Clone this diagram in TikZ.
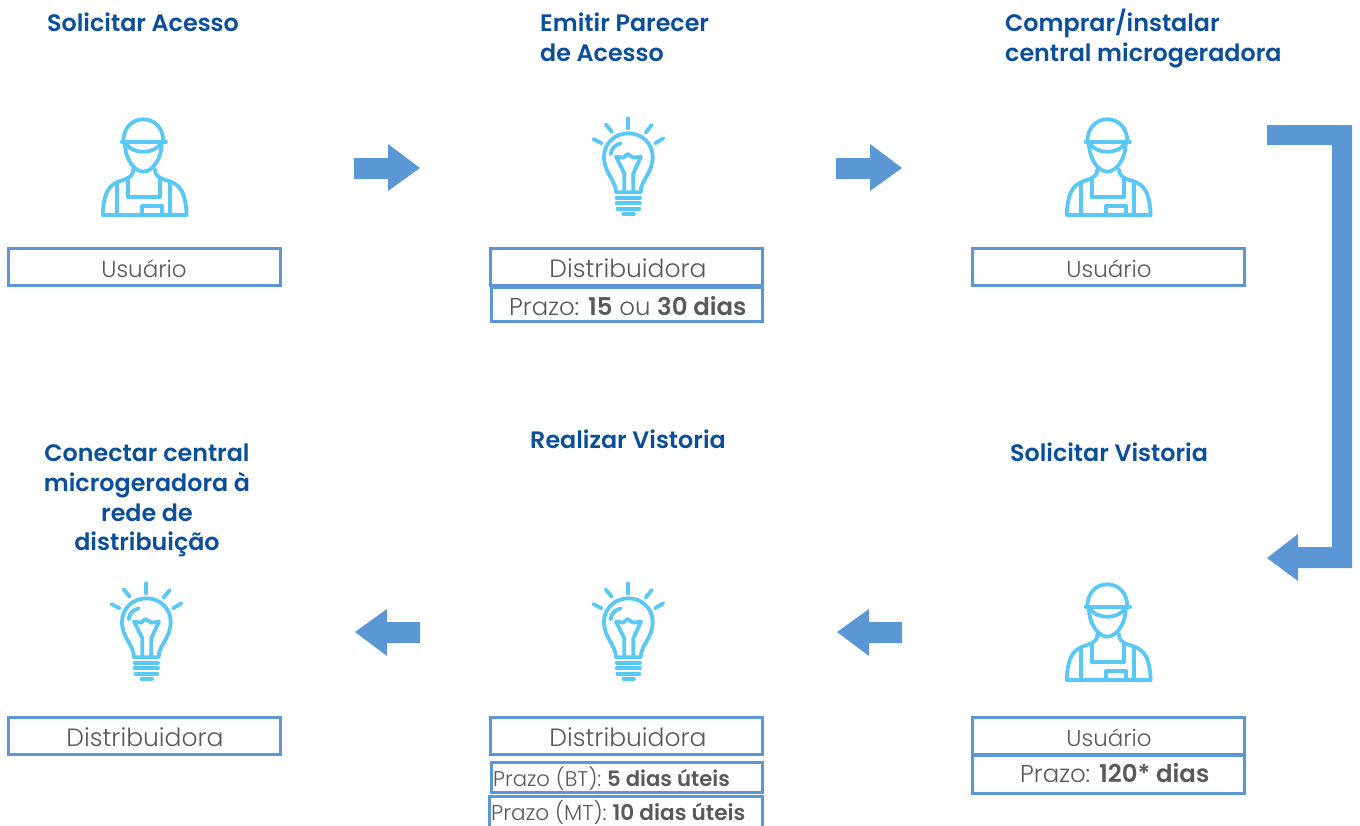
\documentclass[tikz,border=0pt]{standalone}
\usepackage{fontspec}
\setmainfont{Poppins}[UprightFont=* Light,BoldFont=* SemiBold]
\newfontfamily\headf{Poppins}[UprightFont=* SemiBold]
\definecolor{head}{HTML}{0B4E9B}
\definecolor{edge}{HTML}{5B96D5}
\definecolor{icon}{HTML}{5AC8F5}
\definecolor{txt}{HTML}{595959}
\tikzset{
 x=1pt,y=-1pt,
 heading/.style={font=\headf\fontsize{23.8}{29.6}\selectfont,text=head,inner sep=0pt,align=#1},
 heading/.default=left,
 boxed/.style={draw=edge,line width=3pt,fill=white},
 label/.style={font=\fontsize{23}{26}\selectfont,text=txt,inner sep=0pt,anchor=base},
 labelwide/.style={font=\fontsize{25}{28}\selectfont,text=txt,inner sep=0pt,anchor=base},
 prazo/.style={font=\fontsize{24.4}{28}\selectfont,text=txt,inner sep=0pt,anchor=base west},
 prazobt/.style={font=\fontsize{21.2}{24}\selectfont,text=txt,inner sep=0pt,anchor=base west},
 prazomt/.style={font=\fontsize{21.6}{24}\selectfont,text=txt,inner sep=0pt,anchor=base west},
 blockarrow/.style={fill=edge,draw=none},
 iconline/.style={draw=icon,line width=3.8pt,line cap=round,line join=round,x=0.3333pt,y=-0.3333pt},
 worker/.pic={
  \draw[iconline] (130,125) .. controls (130,85) and (155,58) .. (190,58) .. controls (225,58) and (250,85) .. (250,125);
  \draw[iconline] (125,125) -- (258,125);
  \draw[iconline] (135,127) .. controls (155,165) and (225,165) .. (245,127);
  \draw[iconline] (135,130) .. controls (135,180) and (165,215) .. (190,215) .. controls (215,215) and (245,180) .. (245,130);
  \draw[iconline] (160,208) .. controls (160,225) and (150,232) .. (135,238) .. controls (100,250) and (72,255) .. (68,345) -- (320,345) .. controls (316,255) and (288,250) .. (250,238) .. controls (235,232) and (225,225) .. (225,208);
  \draw[iconline] (112,250) -- (112,345);
  \draw[iconline] (270,250) -- (270,345);
  \draw[iconline] (143,235) -- (143,292) -- (240,292) -- (240,235);
  \draw[iconline] (187,345) -- (187,318) -- (247,318) -- (247,345);
 },
 bulb/.pic={
  \draw[iconline] (175,40) -- (175,70);
  \draw[iconline] (107,58) -- (125,80);
  \draw[iconline] (245,60) -- (227,83);
  \draw[iconline] (70,102) -- (95,115);
  \draw[iconline] (280,100) -- (255,115);
  \draw[iconline] (138,262) .. controls (138,225) and (102,205) .. (102,155) .. controls (102,115) and (135,85) .. (175,85) .. controls (215,85) and (248,115) .. (248,155) .. controls (248,205) and (212,225) .. (212,262) -- cycle;
  \draw[iconline] (122,148) .. controls (124,130) and (135,120) .. (152,115);
  \draw[iconline] (163,262) -- (163,205) -- (138,155) -- (160,158) -- (172,147) -- (190,158) -- (213,155) -- (190,205) -- (190,262);
  \draw[iconline] (140,278) -- (210,278);
  \draw[iconline] (140,295) -- (210,295);
  \draw[iconline] (142,311) -- (208,311);
  \draw[iconline] (160,326) -- (192,326);
 }
}
\begin{document}
\begin{tikzpicture}
\useasboundingbox (0,0) rectangle (1360,825);
\begin{scope}
\clip (0,0) rectangle (1360,825);
% headings
\node[heading,anchor=base west] (h1) at (47,31) {Solicitar Acesso};
\node[heading,anchor=north west] (h2) at (540,13) {Emitir Parecer\\de Acesso};
\node[heading,anchor=north west] (h3) at (1005,9) {Comprar/instalar\\central microgeradora};
\node[heading=center,anchor=north] (h4) at (147,444) {Conectar central\\microgeradora à\\rede de\\distribuição};
\node[heading,anchor=base] (h5) at (628,448) {Realizar Vistoria};
\node[heading,anchor=base] (h6) at (1109,461) {Solicitar Vistoria};
% icons
\pic at (80,100) {worker};
\pic at (1044,100) {worker};
\pic at (1044,565) {worker};
\pic at (570,105) {bulb};
\pic at (570,570) {bulb};
\pic at (88,570) {bulb};
% boxes
\draw[boxed] (8,248) rectangle (280,285);
\node[label] (u1) at (144,277) {Usuário};
\draw[boxed] (490,248) rectangle (762,285);
\node[labelwide] (d1) at (628,277) {Distribuidora};
\draw[boxed] (491,287) rectangle (762,321);
\node[prazo] (p1) at (509,315) {Prazo: \textbf{15} ou \textbf{30 dias}};
\draw[boxed] (972,248) rectangle (1244,285);
\node[label] (u2) at (1109,277) {Usuário};
\draw[boxed] (8,717) rectangle (280,754);
\node[labelwide] (d2) at (145,746) {Distribuidora};
\draw[boxed] (490,717) rectangle (762,754);
\node[labelwide] (d3) at (628,746) {Distribuidora};
\draw[boxed] (491,762) rectangle (762,792);
\node[prazobt] (p2) at (493,786) {Prazo (BT): \textbf{5 dias úteis}};
\draw[boxed] (489,796) rectangle (762,840);
\node[prazomt] (p3) at (491,820) {Prazo (MT): \textbf{10 dias úteis}};
\draw[boxed] (972,755) rectangle (1244,793);
\draw[boxed] (972,717) rectangle (1244,754);
\node[label] (u3) at (1109,746) {Usuário};
\node[prazo] (p4) at (1020,782) {Prazo: \textbf{120* dias}};
% arrows
\fill[blockarrow] (354,158) -- (388,158) -- (388,144) -- (420,168) -- (388,191) -- (388,179) -- (354,179) -- cycle;
\fill[blockarrow] (836,158) -- (870,158) -- (870,144) -- (902,168) -- (870,191) -- (870,179) -- (836,179) -- cycle;
\fill[blockarrow] (420,622) -- (387,622) -- (387,609) -- (355,632) -- (387,656) -- (387,643) -- (420,643) -- cycle;
\fill[blockarrow] (902,622) -- (869,622) -- (869,609) -- (837,632) -- (869,656) -- (869,643) -- (902,643) -- cycle;
\fill[blockarrow] (1267,125) -- (1352,125) -- (1352,568) -- (1298,568) -- (1298,581) -- (1267,558) -- (1298,534) -- (1298,547) -- (1332,547) -- (1332,145) -- (1267,145) -- cycle;
\end{scope}
\end{tikzpicture}
\end{document}
